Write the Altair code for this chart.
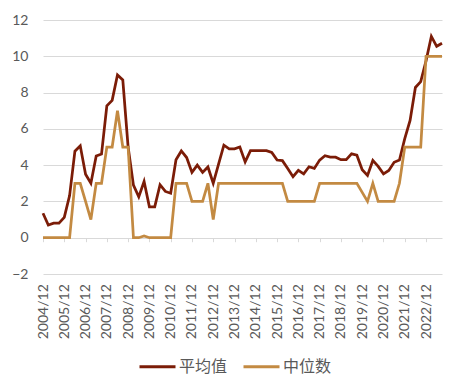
import altair as alt
import pandas as pd

# quarterly periods 2004/12 .. 2023/09
periods = ["2004/12"] + [f"{y}/{m}" for y in range(2005, 2024) for m in ("03", "06", "09", "12")]
periods = periods[:76]

tick_labels = [f"{y}/12" for y in range(2004, 2023)]

mean_vals = [
    1.35, 0.70, 0.80, 0.80, 1.12, 2.32, 4.77, 5.07, 3.50, 3.00,
    4.50, 4.61, 7.27, 7.57, 8.97, 8.70, 5.00, 2.90, 2.25, 3.10,
    1.70, 1.70, 2.92, 2.55, 2.45, 4.30, 4.78, 4.42, 3.60, 4.00,
    3.60, 3.90, 3.00, 4.05, 5.10, 4.90, 4.90, 5.00, 4.18, 4.80,
    4.80, 4.80, 4.80, 4.70, 4.28, 4.25, 3.82, 3.36, 3.71, 3.52,
    3.91, 3.82, 4.28, 4.52, 4.44, 4.44, 4.30, 4.30, 4.62, 4.55,
    3.75, 3.43, 4.26, 3.93, 3.52, 3.71, 4.16, 4.28, 5.46, 6.46,
    8.28, 8.60, 9.75, 11.10, 10.55, 10.72,
]

median_vals = [
    0, 0, 0, 0, 0, 0, 3, 3, 2, 1,
    3, 3, 5, 5, 7, 5, 5, 0, 0, 0.1,
    0, 0, 0, 0, 0, 3, 3, 3, 2, 2,
    2, 3, 1, 3, 3, 3, 3, 3, 3, 3,
    3, 3, 3, 3, 3, 3, 2, 2, 2, 2,
    2, 2, 3, 3, 3, 3, 3, 3, 3, 3,
    2.5, 2, 3, 2, 2, 2, 2, 3, 5, 5,
    5, 5, 10, 10, 10, 10,
]

series_names = ["平均值", "中位数"]
series_colors = ["#7B1C07", "#C38A42"]

df = pd.DataFrame(
    {"period": periods * 2,
     "series": [series_names[0]] * 76 + [series_names[1]] * 76,
     "order": list(range(76)) * 2,
     "value": mean_vals + median_vals}
)

H = 254
chart = alt.Chart(df).mark_line(strokeWidth=2.75, strokeJoin="miter").encode(
    x=alt.X("period:O", sort=periods,
            scale=alt.Scale(type="point", padding=0),
            axis=alt.Axis(values=tick_labels, title=None, grid=False, domain=False,
                          ticks=True, tickSize=4, tickColor="#d9d9d9", tickWidth=1,
                          offset=-H * 2 / 14, labelAngle=-90, labelPadding=42,
                          labelFont="Lato", labelFontSize=14, labelColor="#595959",
                          labelOverlap=False)),
    y=alt.Y("value:Q", scale=alt.Scale(domain=[-2, 12], nice=False, zero=False),
            axis=alt.Axis(values=list(range(-2, 13, 2)), title=None, grid=True,
                          gridColor="#d9d9d9", gridWidth=1, domain=False, ticks=False,
                          tickSize=0, labelPadding=15, labelFont="Lato",
                          labelFontSize=14, labelColor="#595959")),
    color=alt.Color("series:N",
                    scale=alt.Scale(domain=series_names, range=series_colors),
                    legend=alt.Legend(orient="none", legendX=95, legendY=327,
                                      direction="horizontal", title=None,
                                      symbolType="stroke", symbolSize=1296,
                                      symbolStrokeWidth=3, labelFontSize=16,
                                      labelFont="Noto Sans CJK SC", labelColor="#595959",
                                      columnPadding=9, labelOffset=2, padding=0)),
    order=alt.Order("order:Q"),
).properties(
    width=399, height=H,
    autosize=alt.AutoSizeParams(type="none"),
    padding={"left": 35, "top": 12, "right": 12, "bottom": 110},
).configure_view(stroke=None)

chart.save("out.html", embed_options={"renderer": "svg", "actions": False})
